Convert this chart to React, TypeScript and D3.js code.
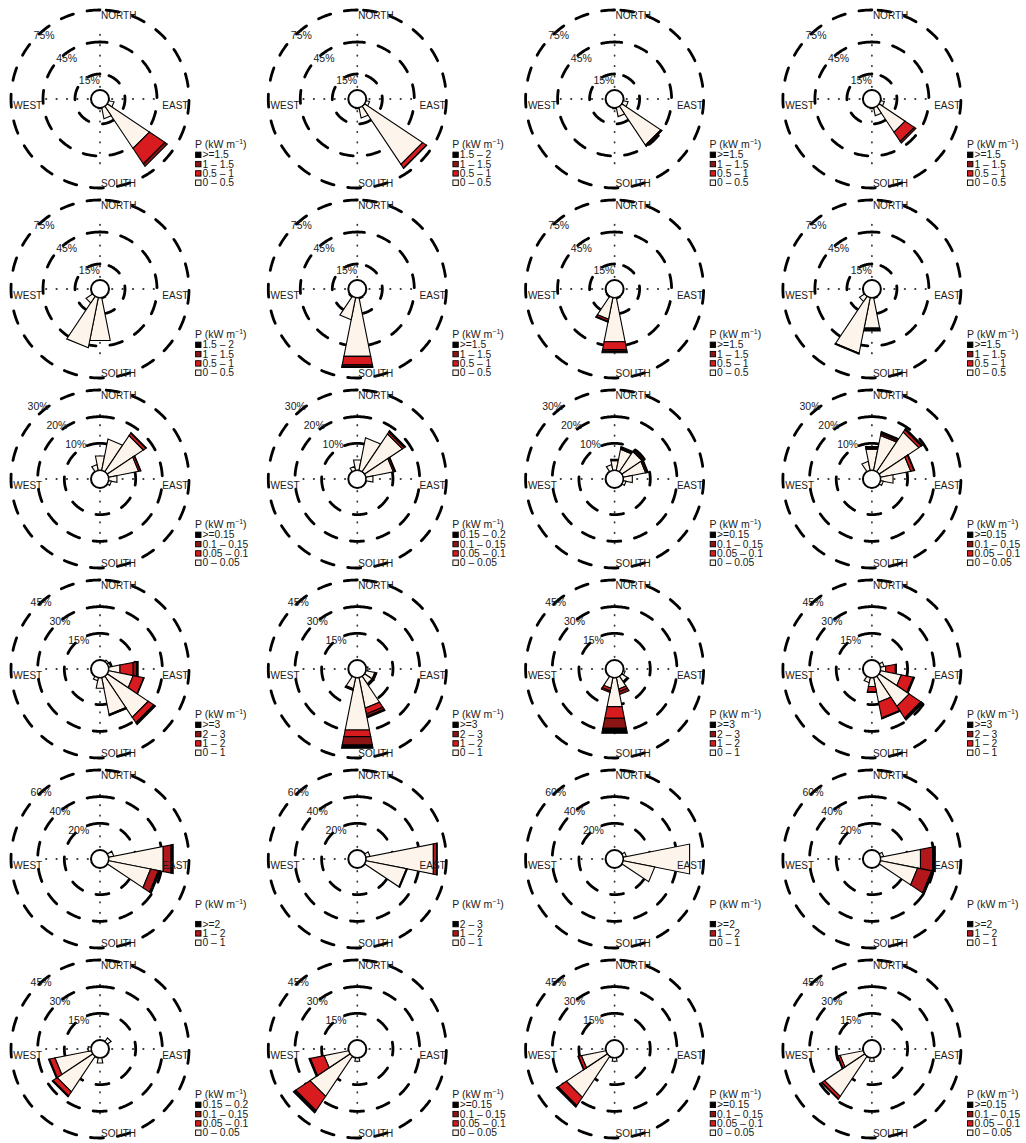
import React from "react";
import * as d3 from "d3";

// ---- grid rings (percent of time) per row ----
const gridRow1 = [15, 45, 75];
const gridRow2 = [15, 45, 75];
const gridRow3 = [10, 20, 30];
const gridRow4 = [15, 30, 45];
const gridRow5 = [20, 40, 60];
const gridRow6 = [15, 30, 45];

// ---- legend class labels, highest class first ----
const legendA = [">=1.5", "1 – 1.5", "0.5 – 1", "0 – 0.5"];
const legendB = ["1.5 – 2", "1 – 1.5", "0.5 – 1", "0 – 0.5"];
const legendC = [">=0.15", "0.1 – 0.15", "0.05 – 0.1", "0 – 0.05"];
const legendD = ["0.15 – 0.2", "0.1 – 0.15", "0.05 – 0.1", "0 – 0.05"];
const legendE = [">=3", "2 – 3", "1 – 2", "0 – 1"];
const legendF = [">=2", "1 – 2", "0 – 1"];
const legendG = ["2 – 3", "1 – 2", "0 – 1"];

// ---- frequencies (%) by direction: [direction°, lowest class, ..., highest class] ----
const p11 = [[112.5, 5], [135, 47.3, 17.4, 2.8], [157.5, 10.5], [180, 0.8]];
const p12 = [[112.5, 3.3], [135, 65.2, 4.2, 0.5], [157.5, 9.8], [180, 0.8]];
const p13 = [[112.5, 4.5], [135, 43.5, 1.2, 0.3], [157.5, 8.4], [180, 0.8]];
const p14 = [[112.5, 3.5], [135, 29, 10.3, 1.9], [157.5, 7.5], [180, 0.8]];

const p21 = [[157.5, 0.8], [180, 40.8], [202.5, 47.8], [225, 7.3]];
const p22 = [[157.5, 1], [180, 56, 8, 1.5, 1], [202.5, 21], [225, 1]];
const p23 = [[157.5, 1], [180, 42, 7.5, 1.5, 1.5], [202.5, 20.6, 2, 0.8], [225, 0.8]];
const p24 = [[157.5, 0.8], [180, 29, 0.3, 0.8, 1.5], [202.5, 53, 0, 0.3, 0.5], [225, 5.6]];

const p31 = [[337.5, 2.2], [0, 5.4], [22.5, 11.9], [45, 16.2, 1.1, 0.3], [67.5, 11.4, 0.7, 0.2], [90, 3.1], [112.5, 1]];
const p32 = [[337.5, 1.5], [0, 3.9], [22.5, 12.4], [45, 17, 0.8, 0.4, 0.2], [67.5, 10.4, 0.6, 0.3], [90, 2.6]];
const p33 = [[337.5, 2.2], [0, 3.6, 0, 0.3, 0.3], [22.5, 8, 0.3, 0.4, 0.3], [45, 9, 0.3, 0.5], [67.5, 8.5, 0, 0.6, 0.4], [90, 3.4], [112.5, 1]];
const p34 = [[337.5, 3.4], [0, 8, 0, 0.4, 0.6], [22.5, 13.3, 0.6, 0.5, 0.4], [45, 17.8, 1.1, 0.3, 0.3], [67.5, 11.5, 1.2, 0.3], [90, 4.7], [112.5, 1]];

const p41 = [[45, 1], [67.5, 1.2, 0.5, 0.3], [90, 6.4, 7.6, 1.9, 0.9], [112.5, 14, 6, 0.3], [135, 27.6, 3.7, 0.6, 0.6], [157.5, 21, 0.6, 0.2], [180, 6], [202.5, 1.7]];
const p42 = [[90, 1], [112.5, 5, 0.5, 0.7], [135, 5, 0.6, 0.6], [157.5, 17.4, 3.4, 1.4, 0.8], [180, 29.9, 3.8, 4.8, 1.9], [202.5, 6.2, 0.8, 0.3]];
const p43 = [[112.5, 1], [135, 3.5, 0.5, 0.5], [157.5, 6.5, 1.5, 1.6], [180, 16.5, 6.7, 5.7, 2.9], [202.5, 6, 1.5, 0.9]];
const p44 = [[67.5, 2], [90, 2.8, 5.6, 0.6], [112.5, 11.8, 6.8, 0.4, 0.4], [135, 20.2, 7.9, 0.6, 0.8], [157.5, 14, 9, 0.3, 0.3], [180, 5, 3, 0.4], [202.5, 2.8]];

const p51 = [[67.5, 3.8], [90, 41.6, 6, 1.6], [112.5, 32, 6, 1.5]];
const p52 = [[67.5, 3], [90, 51.4, 2.5, 0.5], [112.5, 30.8, 0.8]];
const p53 = [[67.5, 2.3], [90, 50.6], [112.5, 24]];
const p54 = [[67.5, 2.3], [90, 30.4, 9.4, 1.9], [112.5, 28.2, 10.8, 1.5]];

const p61 = [[45, 2.5], [180, 3], [225, 23.9, 2.8, 0.6], [247.5, 20.8, 3.1, 0.6], [270, 1.7]];
const p62 = [[180, 2], [225, 27, 9.6, 0.8, 0.8], [247.5, 14, 7.9, 0.4, 0.4]];
const p63 = [[180, 2], [225, 27.6, 5.6, 0.7, 0.4], [247.5, 14, 1.7, 0.3]];
const p64 = [[180, 2], [225, 27, 1.7, 0.4], [247.5, 13.2, 1.4, 0.4]];

// fill colours, lowest class first
const palette4 = ["#FDF5EB", "#D81B1F", "#8B1414", "#000000"];
const palette3 = ["#FDF5EB", "#B1171B", "#000000"];

const compass = ["NORTH", "EAST", "SOUTH", "WEST"];

// ---- layout ----
const W = 1026;
const H = 1143;
const X0 = 100;
const DX = 257.3;
const Y0 = 99;
const DY = 190;
const R_OUT = 89;
const HOLE = 9;
const HALF = 11.25;
const FONT = "'Liberation Sans', Arial, Helvetica, sans-serif";
const INK = "#1a1a1a";

const rows = [
  { grid: gridRow1, shift: [7, -1], panels: [[p11, legendA], [p12, legendB], [p13, legendA], [p14, legendA]] },
  { grid: gridRow2, shift: [7, -1], panels: [[p21, legendB], [p22, legendA], [p23, legendA], [p24, legendA]] },
  { grid: gridRow3, shift: [1, -10], panels: [[p31, legendC], [p32, legendD], [p33, legendC], [p34, legendC]] },
  { grid: gridRow4, shift: [4, -3.6], panels: [[p41, legendE], [p42, legendE], [p43, legendE], [p44, legendE]] },
  { grid: gridRow5, shift: [4, -3.6], panels: [[p51, legendF], [p52, legendG], [p53, legendF], [p54, legendF]] },
  { grid: gridRow6, shift: [4, -3.6], panels: [[p61, legendD], [p62, legendC], [p63, legendC], [p64, legendC]] },
];

const toRad = (deg: number) => (deg * Math.PI) / 180;
const pt = (deg: number, r: number): [number, number] => [r * Math.sin(toRad(deg)), -r * Math.cos(toRad(deg))];
const line = d3.line();

function Rose({ cx, cy, grid, shift, data, legend }: any) {
  const max = grid[grid.length - 1];
  const rScale = d3.scaleLinear().domain([0, max]).range([HOLE, R_OUT]);
  const colours = legend.length === 4 ? palette4 : palette3;

  // rings traced from north, anticlockwise
  const ring = (r: number) => line(d3.range(0, 361, 1).map((a) => pt(-a, r))) as string;

  const wedges: any[] = [];
  data.forEach((row: number[], i: number) => {
    const [dir, ...vals] = row;
    const cum = [0, ...Array.from(d3.cumsum(vals))];
    vals.forEach((v, j) => {
      if (v <= 0) return;
      const r0 = rScale(cum[j]);
      const r1 = rScale(cum[j + 1]);
      const poly = [pt(dir - HALF, r0), pt(dir + HALF, r0), pt(dir + HALF, r1), pt(dir - HALF, r1)];
      wedges.push(
        <path key={`${i}-${j}`} d={line(poly) + "Z"} fill={colours[j]} stroke="#000" strokeWidth={1.1} strokeLinejoin="miter" />
      );
    });
  });

  const n = legend.length;
  const axisDots = { stroke: "#3a3a3a", strokeWidth: 1.8, strokeDasharray: "0.4 10", strokeLinecap: "round" as const, strokeDashoffset: -1.6 };

  return (
    <g transform={`translate(${cx},${cy})`}>
      {/* dotted axes, drawn outward from the centre */}
      <line x1={0} y1={0} x2={56} y2={0} {...axisDots} />
      <line x1={0} y1={0} x2={-56} y2={0} {...axisDots} />
      <line x1={0} y1={0} x2={0} y2={-72} {...axisDots} />
      <line x1={0} y1={0} x2={0} y2={68} {...axisDots} />

      {/* dashed frequency rings */}
      {grid.map((g: number) => (
        <path key={g} d={ring(rScale(g))} fill="none" stroke="#000" strokeWidth={2.8} strokeDasharray="13 14" strokeLinecap="round" />
      ))}

      {/* central hole */}
      <circle r={HOLE} fill="#fff" stroke="#000" strokeWidth={2} />

      {wedges}

      {/* compass labels */}
      <text x={1} y={-79.7} fontSize={10} fill={INK}>{compass[0]}</text>
      <text x={62.3} y={10.3} fontSize={10} fill={INK}>{compass[1]}</text>
      <text x={1} y={87.7} fontSize={10} fill={INK}>{compass[2]}</text>
      <text x={-86.7} y={10.3} fontSize={10} fill={INK}>{compass[3]}</text>

      {/* ring labels */}
      {grid.map((g: number) => {
        const [x, y] = pt(315, rScale(g));
        return (
          <text key={g} x={x + shift[0]} y={y + shift[1] + 3.8} fontSize={10.5} textAnchor="middle" fill={INK}>
            {`${g}%`}
          </text>
        );
      })}

      {/* legend */}
      <text x={95} y={49.3} fontSize={10.5} fill={INK}>
        P (kW m<tspan fontSize={7} dy={-4}>−1</tspan>
        <tspan dy={4}>)</tspan>
      </text>
      {legend.map((lab: string, j: number) => {
        const yc = 83.7 - (n - 1 - j) * 9.3;
        return (
          <g key={lab}>
            <rect x={95.6} y={yc - 2.7} width={5.4} height={5.4} fill={colours[n - 1 - j]} stroke="#000" strokeWidth={0.9} />
            <text x={102.5} y={yc + 3.6} fontSize={10.3} fill={INK}>{lab}</text>
          </g>
        );
      })}
    </g>
  );
}

export default function App() {
  return (
    <svg
      width={W}
      height={H}
      viewBox={`0 0 ${W} ${H}`}
      style={{ position: "absolute", left: 0, top: 0, background: "#fff" }}
      fontFamily={FONT}
    >
      <rect width={W} height={H} fill="#fff" />
      {rows.map((row, ri) =>
        row.panels.map(([data, legend], ci) => (
          <Rose
            key={`${ri}-${ci}`}
            cx={X0 + ci * DX}
            cy={Y0 + ri * DY}
            grid={row.grid}
            shift={row.shift}
            data={data}
            legend={legend}
          />
        ))
      )}
    </svg>
  );
}
